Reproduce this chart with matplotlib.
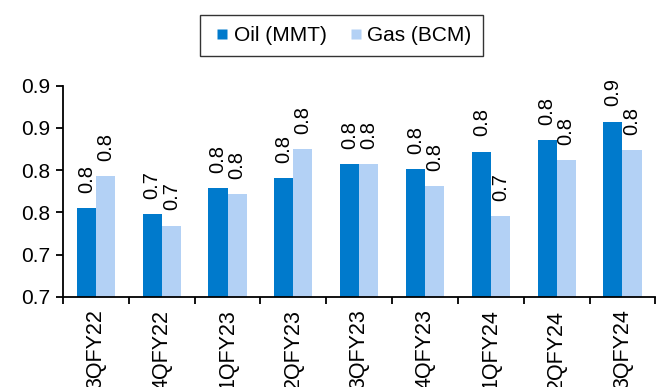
import matplotlib
matplotlib.use("Agg")
import matplotlib.pyplot as plt
from matplotlib.lines import Line2D
import numpy as np

plt.rcParams['font.family'] = ['Liberation Sans', 'DejaVu Sans']

categories = ["3QFY22", "4QFY22", "1QFY23", "2QFY23", "3QFY23",
              "4QFY23", "1QFY24", "2QFY24", "3QFY24"]
oil = [0.755, 0.748, 0.779, 0.791, 0.8075, 0.801, 0.822, 0.836, 0.8575]
gas = [0.793, 0.7345, 0.772, 0.825, 0.8075, 0.781, 0.746, 0.812, 0.824]
oil_labels = ["0.8", "0.7", "0.8", "0.8", "0.8", "0.8", "0.8", "0.8", "0.9"]
gas_labels = ["0.8", "0.7", "0.8", "0.8", "0.8", "0.8", "0.7", "0.8", "0.8"]
yticks = [0.65, 0.70, 0.75, 0.80, 0.85, 0.90]
ytick_labels = ["0.7", "0.7", "0.8", "0.8", "0.9", "0.9"]
series_names = ["Oil (MMT)", "Gas (BCM)"]

oil_color = "#007ACC"
gas_color = "#B3D1F5"

fig = plt.figure(figsize=(6.56, 3.87), dpi=100)
ax = fig.add_axes([63/656, 1 - 297/387, 1 - 63/656 - 0.001, (297 - 85.7)/387])

x = np.arange(len(categories))
w = 0.29
ax.bar(x - w/2, np.array(oil) - 0.65, w, bottom=0.65, color=oil_color)
ax.bar(x + w/2, np.array(gas) - 0.65, w, bottom=0.65, color=gas_color)

for xi, v, lab in zip(x - w/2, oil, oil_labels):
    ax.annotate(lab, (xi, v), xytext=(0, 11), textcoords='offset points',
                rotation=90, ha='center', va='bottom', fontsize=14.5, clip_on=False)
for xi, v, lab in zip(x + w/2, gas, gas_labels):
    ax.annotate(lab, (xi, v), xytext=(0, 11), textcoords='offset points',
                rotation=90, ha='center', va='bottom', fontsize=14.5, clip_on=False)

ax.set_xlim(-0.5, len(categories) - 0.5)
ax.set_ylim(0.65, 0.90)
ax.set_yticks(yticks)
ax.set_yticklabels(ytick_labels, fontsize=15)

ax.set_xticks(np.arange(-0.5, len(categories), 1.0))
ax.set_xticklabels([])
ax.set_xticks(x, minor=True)
ax.set_xticklabels(categories, minor=True, rotation=90, fontsize=15.5, va='top')
ax.tick_params(axis='x', which='minor', length=0, pad=9)
ax.tick_params(axis='x', which='major', length=5, width=1.3, direction='out')
ax.tick_params(axis='y', length=5, width=1.3, direction='out', pad=4)

for s in ['top', 'right']:
    ax.spines[s].set_visible(False)
for s in ['left', 'bottom']:
    ax.spines[s].set_linewidth(1.3)
    ax.spines[s].set_color('black')

handles = [Line2D([], [], linestyle='none', marker='s', markersize=7,
                  markerfacecolor=oil_color, markeredgecolor='none'),
           Line2D([], [], linestyle='none', marker='s', markersize=7,
                  markerfacecolor=gas_color, markeredgecolor='none')]
leg = fig.legend(handles, series_names, loc='center', bbox_to_anchor=(341.5/656, 1 - 35.5/387),
                 ncol=2, fontsize=15, frameon=True, fancybox=False,
                 handlelength=1.0, handletextpad=0.05,
                 columnspacing=0.9, borderpad=0.55)
leg.get_frame().set_edgecolor('black')
leg.get_frame().set_linewidth(1.0)

fig.savefig("out.png", dpi=100)
